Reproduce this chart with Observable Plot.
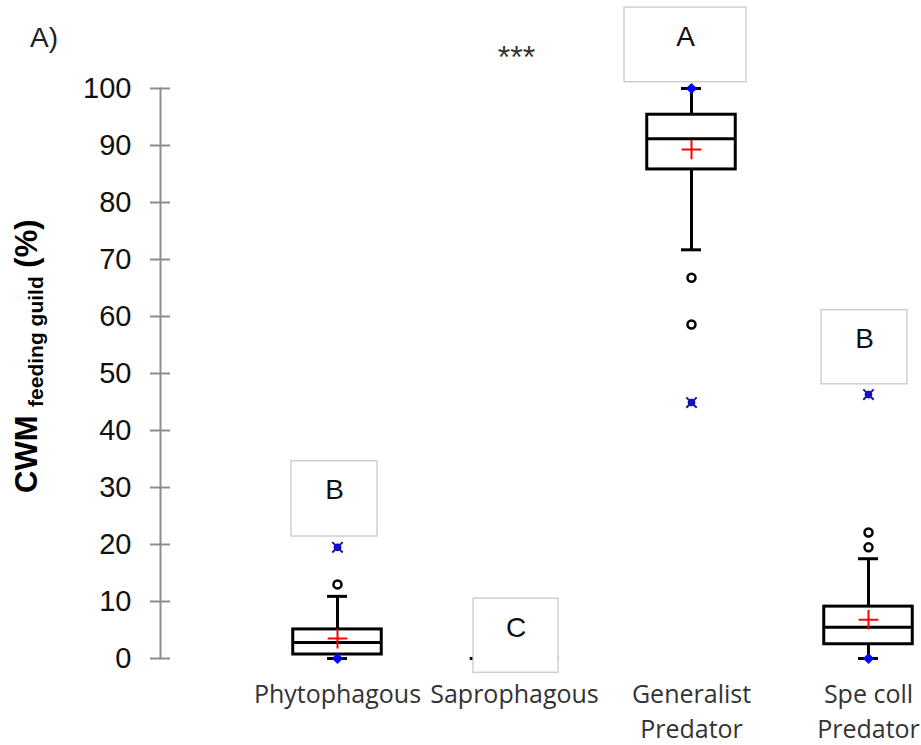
<!DOCTYPE html>
<html><head><meta charset="utf-8">
<script src="https://cdn.jsdelivr.net/npm/d3@7"></script>
<script src="https://cdn.jsdelivr.net/npm/@observablehq/plot@0.6"></script>
<style>body{margin:0;background:#fff;}</style>
</head><body><div id="chart"></div>
<script>
// ---- data ----
const categories = ["Phytophagous", "Saprophagous", "Generalist Predator", "Spe coll Predator"];
const categoryLabels = ["Phytophagous", "Saprophagous", "Generalist\nPredator", "Spe coll\nPredator"];
const q1 = [0.7, 0, 85.8, 2.5];
const medians = [2.8, 0, 91.2, 5.5];
const q3 = [5.1, 0, 95.4, 9.1];
const means = [3.5, 0, 89.3, 6.8];
const whiskerLow = [0, 0, 71.7, 0];
const whiskerHigh = [10.9, 0, 100, 17.5];
const minima = [0, 0, 44.9, 0];
const maxima = [19.5, 0, 100, 46.3];
const outlierCategory = ["Phytophagous", "Generalist Predator", "Generalist Predator", "Spe coll Predator", "Spe coll Predator"];
const outlierValues = [13.0, 66.8, 58.6, 19.5, 22.1];
const letters = ["B", "C", "A", "B"];
const letterLow = [21.4, -2.5, 101.1, 48.1];
const letterHigh = [34.6, 10.5, 114.2, 61.1];
const significance = "***";
const yTicks = [0, 10, 20, 30, 40, 50, 60, 70, 80, 90, 100];

// ---- tables built from the arrays ----
const groups = categories.map((c, i) => ({
  cat: c, label: categoryLabels[i], q1: q1[i], median: medians[i], q3: q3[i], mean: means[i],
  wlo: whiskerLow[i], whi: whiskerHigh[i], min: minima[i], max: maxima[i]
}));
const outliers = outlierValues.map((v, i) => ({cat: outlierCategory[i], v}));
const extremes = groups.flatMap(g => [
  {cat: g.cat, v: g.min, far: g.min < g.wlo},
  {cat: g.cat, v: g.max, far: g.max > g.whi}
]);
const letterBoxes = categories.map((c, i) => ({cat: c, letter: letters[i], lo: letterLow[i], hi: letterHigh[i]}));

// styling of each letter box (horizontal nudge and width in px)
const letterBoxStyle = [{dx: -3, w: 86}, {dx: 1.5, w: 85}, {dx: -6, w: 122}, {dx: -4, w: 86}];
const bandwidth = 88.5;
const letterMarks = letterBoxes.flatMap((d, i) => {
  const s = letterBoxStyle[i], inset = (bandwidth - s.w) / 2;
  return [
    Plot.barY([d], {x: "cat", y1: "lo", y2: "hi", fill: "#fff", stroke: "#c8c8c8", strokeWidth: 1.3,
      insetLeft: inset, insetRight: inset, dx: s.dx}),
    Plot.text([d], {x: "cat", y: "hi", text: "letter", dy: 29, dx: s.dx, fontSize: 28, lineAnchor: "middle", fill: "#111"})
  ];
});

const plot = Plot.plot({
  width: 921, height: 745,
  marginLeft: 160, marginRight: 0, marginTop: 88, marginBottom: 87,
  style: {fontFamily: "'Liberation Sans', Arial, sans-serif", background: "#fff", color: "#000"},
  x: {type: "band", domain: categories, range: [204.25, 1000.75], padding: 0.5, round: false, axis: null},
  y: {domain: [0, 100], axis: null},
  marks: [
    Plot.frame({anchor: "left", stroke: "#8c8c8c", strokeWidth: 2}),
    Plot.axisY({ticks: yTicks, tickSize: 20, dx: 10, tickPadding: 19, fontSize: 29,
      stroke: "#8c8c8c", strokeWidth: 2, fill: "#111", label: null, tickFormat: d => String(d)}),
    // whiskers
    Plot.ruleX(groups, {x: "cat", y1: "q3", y2: "whi", stroke: "#000", strokeWidth: 3}),
    Plot.ruleX(groups, {x: "cat", y1: "q1", y2: "wlo", stroke: "#000", strokeWidth: 3}),
    Plot.tickY(groups, {x: "cat", y: "whi", insetLeft: 34.25, insetRight: 34.25, stroke: "#000", strokeWidth: 3}),
    Plot.tickY(groups, {x: "cat", y: "wlo", insetLeft: 34.25, insetRight: 34.25, stroke: "#000", strokeWidth: 3}),
    // boxes
    Plot.barY(groups, {x: "cat", y1: "q1", y2: "q3", fill: "#fff", stroke: "#000", strokeWidth: 3}),
    Plot.tickY(groups, {x: "cat", y: "median", stroke: "#000", strokeWidth: 3}),
    Plot.dot(groups, {x: "cat", y: "mean", symbol: "plus", r: 6.4, stroke: "#ff0000", strokeWidth: 2}),
    // outliers and extremes
    Plot.dot(outliers, {x: "cat", y: "v", r: 4, stroke: "#000", strokeWidth: 2.5, fill: "#fff"}),
    Plot.dot(extremes.filter(d => !d.far), {x: "cat", y: "v", symbol: "diamond2", r: 5, fill: "#0000ff"}),
    Plot.dot(extremes.filter(d => d.far), {x: "cat", y: "v", r: 3.8, fill: "#0000ff"}),
    Plot.dot(extremes.filter(d => d.far), {x: "cat", y: "v", symbol: "times", r: 4.8, stroke: "#1a1a9c", strokeWidth: 2}),
    // letter boxes
    ...letterMarks,
    // significance
    Plot.text([{cat: categories[1], t: significance}], {x: "cat", text: "t", frameAnchor: "top", dy: -31, dx: 2,
      lineAnchor: "middle", fontSize: 32, fill: "#333"}),
    // category labels
    Plot.text(groups, {x: "cat", text: "label", frameAnchor: "bottom", lineAnchor: "top", dy: 20,
      fontSize: 25, lineHeight: 1.4, fontFamily: "'Open Sans', sans-serif", fill: "#333"})
  ]
});

const svg = d3.select(plot);
svg.append("text").attr("x", 30).attr("y", 47).attr("text-anchor", "start")
  .attr("font-size", 28).attr("fill", "#222").text("A)");
const t = svg.append("text").attr("transform", "translate(37,493) rotate(-90)")
  .attr("text-anchor", "start").attr("font-weight", "bold").attr("fill", "#000");
t.append("tspan").attr("font-size", 31).text("CWM ");
t.append("tspan").attr("font-size", 21).attr("dy", 6).text("feeding guild");
t.append("tspan").attr("font-size", 31).attr("dy", -6).text(" (%)");

document.getElementById("chart").appendChild(plot);
</script>
</body></html>
